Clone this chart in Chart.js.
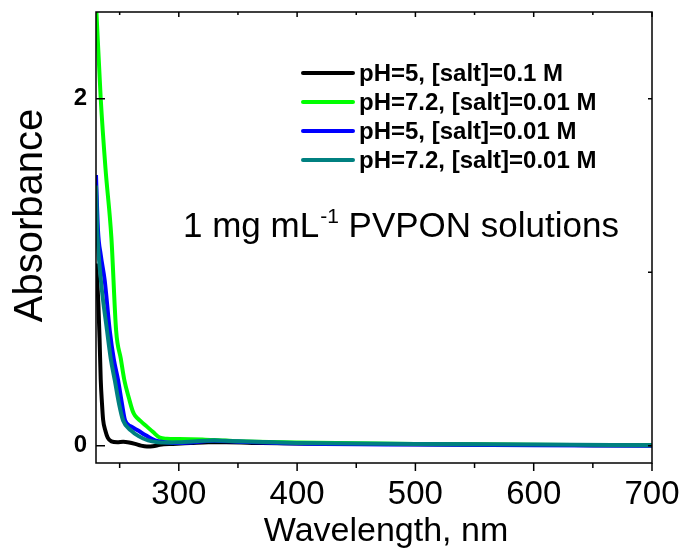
<!DOCTYPE html>
<html>
<head>
<meta charset="utf-8">
<script src="https://cdn.jsdelivr.net/npm/chart.js@4/dist/chart.umd.min.js"></script>
<style>
  html, body { margin: 0; padding: 0; background: #fff; }
  #wrap { width: 685px; height: 548px; }
</style>
</head>
<body>
<div id="wrap"><canvas id="uv-chart"></canvas></div>
<script>
const labels = ["pH=5, [salt]=0.1 M", "pH=7.2, [salt]=0.01 M", "pH=5, [salt]=0.01 M", "pH=7.2, [salt]=0.01 M"];

const blackWl  = [230, 231, 232, 233, 234, 235, 236, 238, 240, 243, 248, 253, 258, 263, 268, 273, 278, 284, 295, 310, 325, 340, 370, 400, 450, 500, 550, 600, 650, 700];
const blackAbs = [1.05, 0.95, 0.82, 0.62, 0.38, 0.25, 0.15, 0.085, 0.045, 0.025, 0.02, 0.022, 0.018, 0.01, 0.0, -0.005, -0.004, 0.005, 0.01, 0.015, 0.02, 0.02, 0.015, 0.012, 0.01, 0.008, 0.006, 0.004, 0.003, 0.002];

const greenWl  = [230, 234, 238, 243, 247, 251, 254, 258, 261, 263, 268, 272, 278, 284, 290, 300, 320, 330, 350, 400, 450, 500, 600, 700];
const greenAbs = [2.55, 2.0, 1.6, 1.2, 0.665, 0.5, 0.376, 0.27, 0.2, 0.173, 0.14, 0.116, 0.08, 0.046, 0.04, 0.038, 0.035, 0.033, 0.025, 0.018, 0.014, 0.01, 0.005, 0.002];

const blueWl  = [230, 231.7, 234, 237.4, 241.6, 245, 248.7, 252, 254.6, 260, 265.6, 272, 280, 290, 300, 330, 350, 400, 500, 600, 700];
const blueAbs = [1.56, 1.24, 1.1, 0.95, 0.665, 0.5, 0.376, 0.24, 0.145, 0.11, 0.087, 0.06, 0.03, 0.018, 0.015, 0.028, 0.022, 0.012, 0.006, 0.003, 0.0];

const tealWl  = [230, 231.1, 234.2, 239.3, 242.5, 245.9, 249.5, 252.9, 259.7, 266, 274, 282, 290, 300, 330, 350, 400, 500, 600, 700];
const tealAbs = [1.5, 1.24, 0.95, 0.665, 0.5, 0.376, 0.24, 0.145, 0.087, 0.055, 0.03, 0.02, 0.018, 0.02, 0.03, 0.025, 0.016, 0.01, 0.006, 0.003];

const xTicks = [300, 400, 500, 600, 700];
const xMinor = [250, 350, 450, 550, 650];
const yTicks = [0, 2];
const yRight = [0, 1, 2];

const colors = ["#000000", "#00ff00", "#0000ff", "#008080"];

const toPts = (xs, ys) => xs.map((x, i) => ({ x: x, y: ys[i] }));

const series = [
  toPts(blackWl, blackAbs),
  toPts(greenWl, greenAbs),
  toPts(blueWl, blueAbs),
  toPts(tealWl, tealAbs),
];

// frame, ticks, titles, legend and note
const framePlugin = {
  id: "frame",
  afterDraw(chart) {
    const { ctx, chartArea: a, scales } = chart;
    const xs = scales.x, ys = scales.y;
    ctx.save();
    ctx.strokeStyle = "#000";
    ctx.lineWidth = 1.5;
    ctx.strokeRect(a.left, a.top, a.right - a.left, a.bottom - a.top);

    ctx.beginPath();
    xTicks.forEach(v => {
      const px = xs.getPixelForValue(v);
      ctx.moveTo(px, a.bottom); ctx.lineTo(px, a.bottom + 8);
      ctx.moveTo(px, a.top); ctx.lineTo(px, a.top + 5);
    });
    xMinor.forEach(v => {
      const px = xs.getPixelForValue(v);
      ctx.moveTo(px, a.bottom); ctx.lineTo(px, a.bottom + 5);
      ctx.moveTo(px, a.top); ctx.lineTo(px, a.top + 3);
    });
    yTicks.forEach(v => {
      const py = ys.getPixelForValue(v);
      ctx.moveTo(a.left, py); ctx.lineTo(a.left + 9, py);
    });
    yRight.forEach(v => {
      const py = ys.getPixelForValue(v);
      ctx.moveTo(a.right, py); ctx.lineTo(a.right - 4, py);
    });
    ctx.stroke();

    // axis titles
    ctx.fillStyle = "#000";
    ctx.font = "34px 'Liberation Sans', Arial, sans-serif";
    ctx.textAlign = "center";
    ctx.textBaseline = "alphabetic";
    ctx.fillText("Wavelength, nm", (a.left + a.right) / 2 + 12, a.bottom + 78);

    ctx.save();
    ctx.translate(a.left - 54, (a.top + a.bottom) / 2 - 22);
    ctx.rotate(-Math.PI / 2);
    ctx.font = "40px 'Liberation Sans', Arial, sans-serif";
    ctx.fillText("Absorbance", 0, 0);
    ctx.restore();

    // legend
    ctx.font = "bold 24px 'Liberation Sans', Arial, sans-serif";
    ctx.textAlign = "left";
    ctx.textBaseline = "middle";
    ctx.lineCap = "round";
    labels.forEach((t, i) => {
      const y = a.top + 61 + i * 29;
      ctx.strokeStyle = colors[i];
      ctx.lineWidth = 4;
      ctx.beginPath();
      ctx.moveTo(a.left + 207, y);
      ctx.lineTo(a.left + 257, y);
      ctx.stroke();
      ctx.fillText(t, a.left + 263, y + 1);
    });

    // note
    ctx.textBaseline = "alphabetic";
    let x = a.left + 87;
    const y = a.top + 225;
    ctx.font = "35px 'Liberation Sans', Arial, sans-serif";
    ctx.fillText("1 mg mL", x, y);
    x += ctx.measureText("1 mg mL").width;
    ctx.font = "21px 'Liberation Sans', Arial, sans-serif";
    ctx.fillText("-1", x + 1, y - 14);
    x += ctx.measureText("-1").width + 1;
    ctx.font = "35px 'Liberation Sans', Arial, sans-serif";
    ctx.fillText(" PVPON solutions", x, y);
    ctx.restore();
  },
};

const ctx = document.getElementById("uv-chart").getContext("2d");

const uvChart = new Chart(ctx, {
  type: "line",
  data: {
    datasets: series.map((pts, i) => ({
      label: labels[i],
      data: pts,
      borderColor: colors[i],
      backgroundColor: colors[i],
      borderWidth: 4,
      pointRadius: 0,
      cubicInterpolationMode: "monotone",
      order: 3 - i,
    })),
  },
  options: {
    responsive: true,
    maintainAspectRatio: false,
    animation: false,
    layout: { padding: { left: 0, right: 33, top: 12, bottom: 0 } },
    plugins: {
      legend: { display: false },
      tooltip: { enabled: false },
    },
    scales: {
      x: {
        type: "linear",
        min: 230,
        max: 700,
        grid: { display: false, drawTicks: false },
        border: { display: false },
        afterBuildTicks: s => { s.ticks = xTicks.map(v => ({ value: v })); },
        afterFit: s => { s.height = 85; s.paddingLeft = 0; s.paddingRight = 0; },
        ticks: {
          padding: 12,
          color: "#000",
          font: { family: "'Liberation Sans', Arial, sans-serif", size: 33 },
          maxRotation: 0,
        },
      },
      y: {
        type: "linear",
        min: -0.1,
        max: 2.5,
        grid: { display: false, drawTicks: false },
        border: { display: false },
        afterBuildTicks: s => { s.ticks = yTicks.map(v => ({ value: v })); },
        afterFit: s => { s.width = 96; s.paddingTop = 0; s.paddingBottom = 0; },
        ticks: {
          padding: 9,
          color: "#000",
          font: { family: "'Liberation Sans', Arial, sans-serif", size: 24, weight: "bold" },
        },
      },
    },
  },
  plugins: [framePlugin],
});
</script>
</body>
</html>
